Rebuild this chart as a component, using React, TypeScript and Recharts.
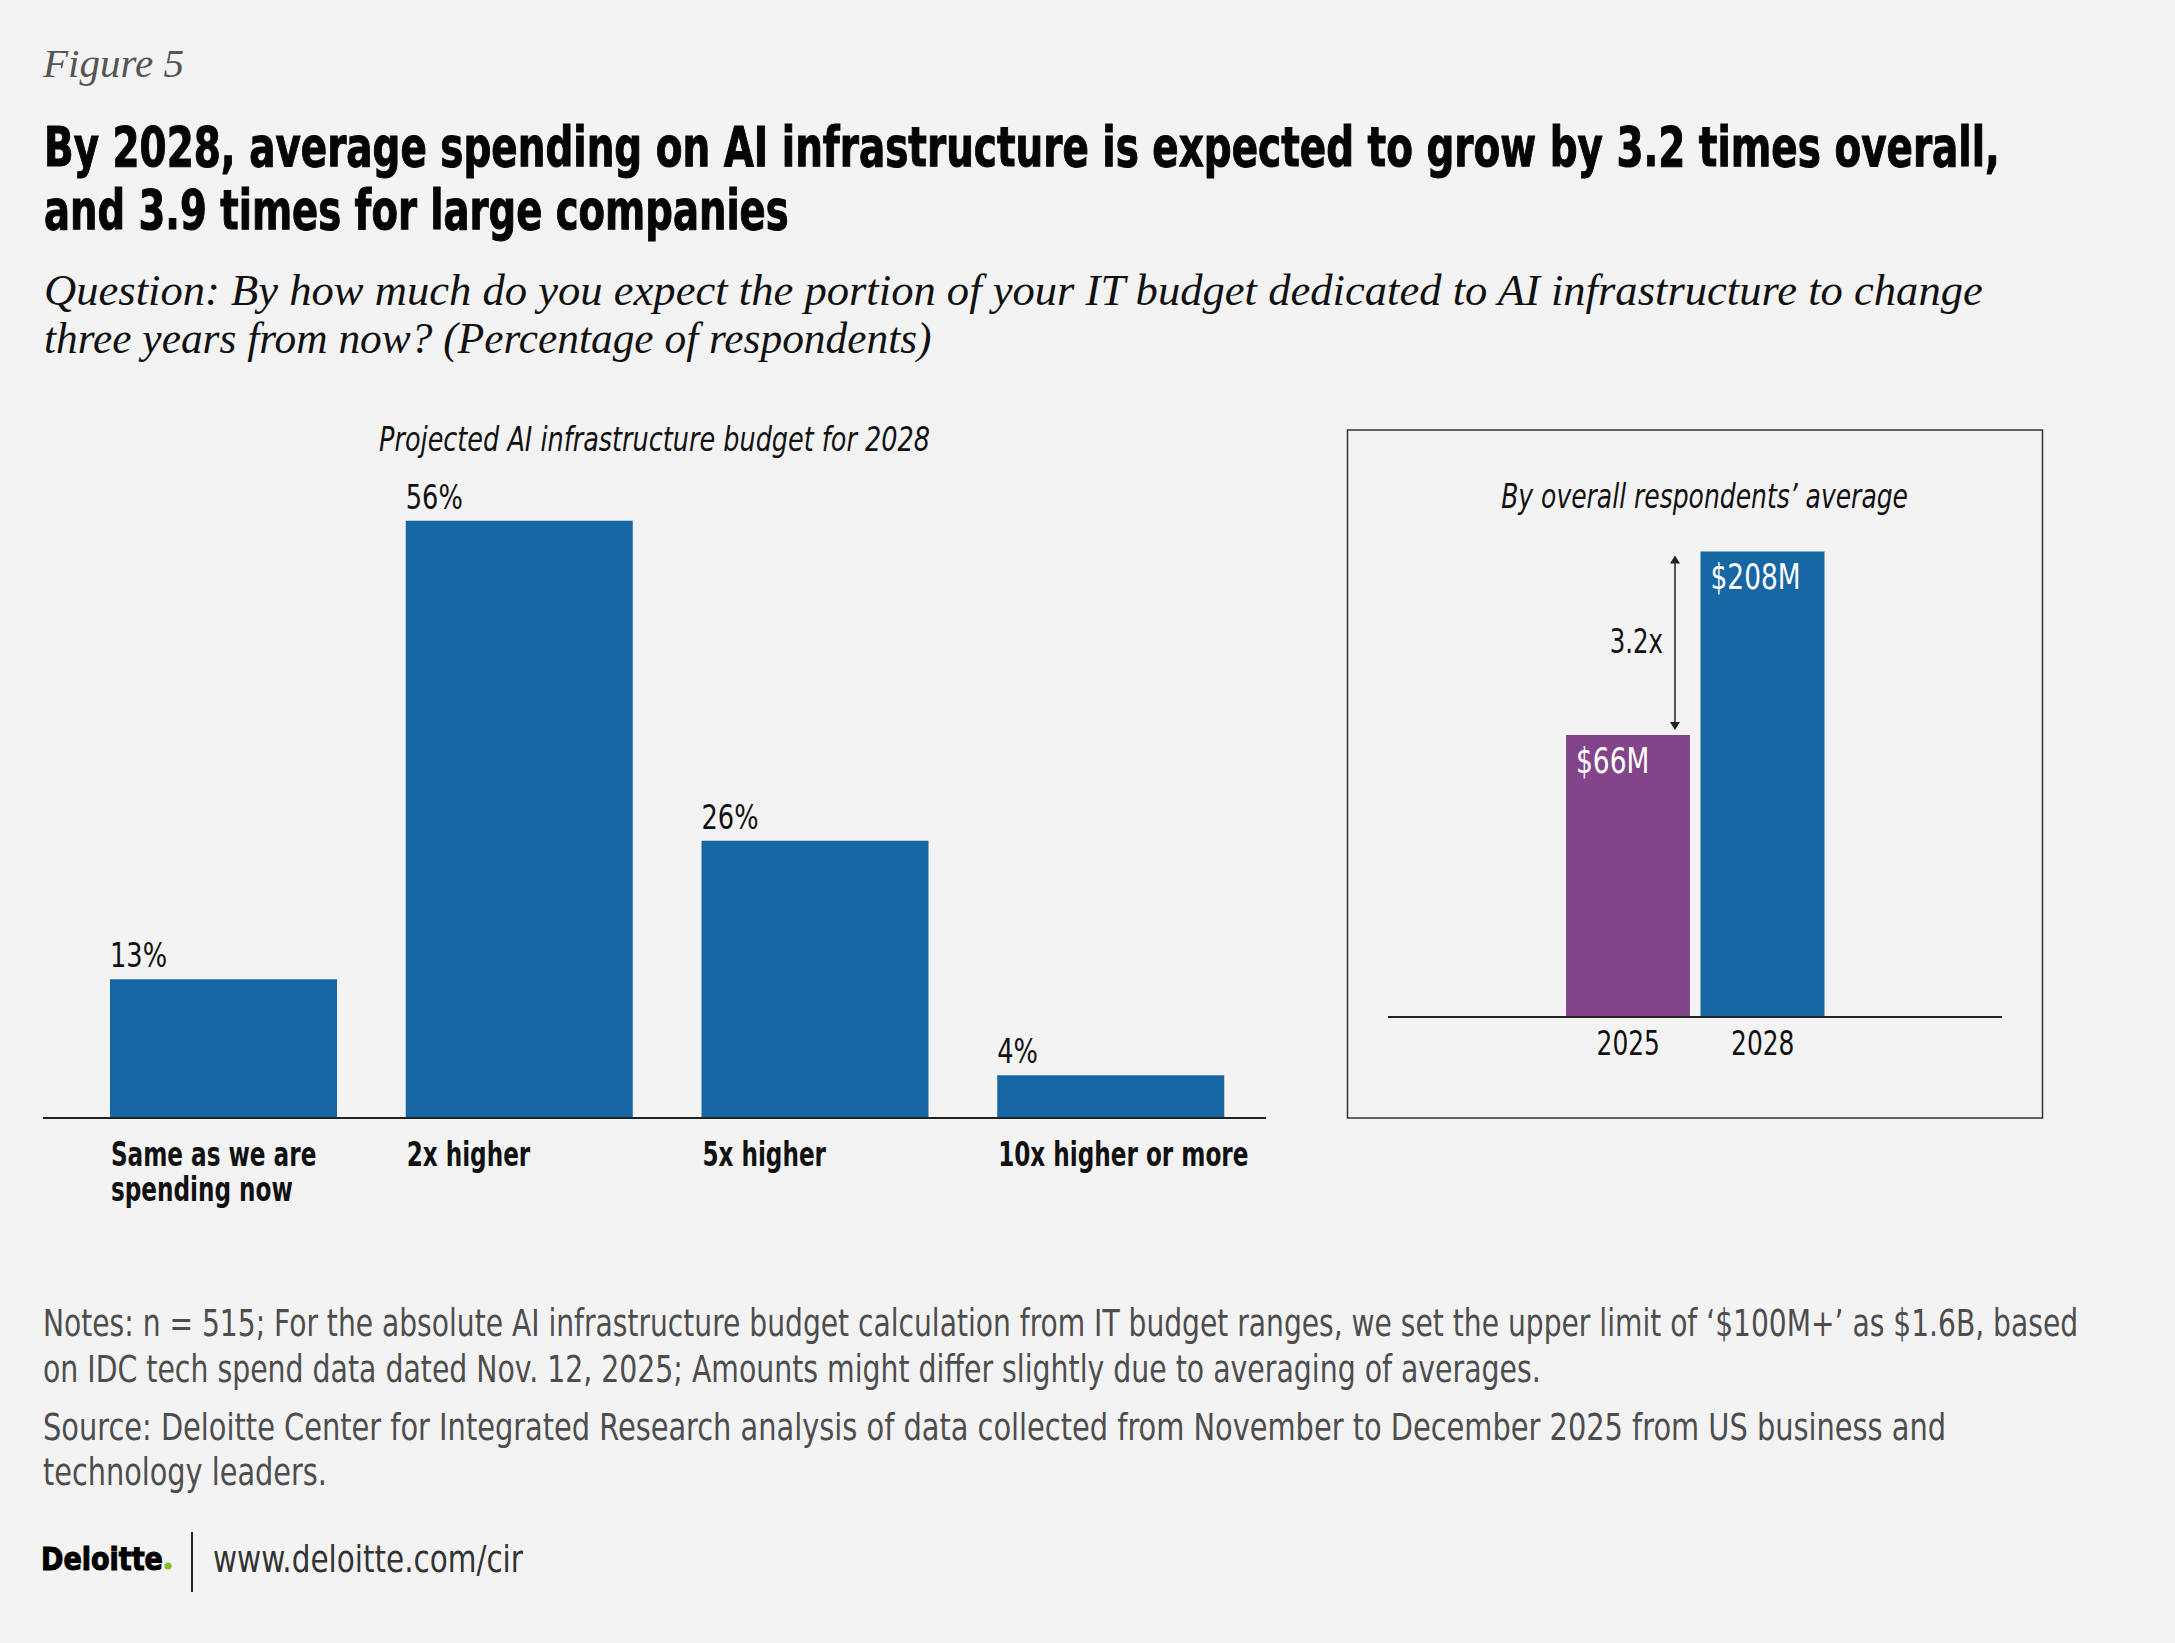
import React, { useLayoutEffect, useRef, useState } from 'react';
import { BarChart, Bar, XAxis, YAxis, LabelList, Cell } from 'recharts';

// left panel: share of respondents by projected 2028 budget
const budgetCategories = ['Same as we are\nspending now', '2x higher', '5x higher', '10x higher or more'];
const budgetShares = [13, 56, 26, 4];

// right panel: average AI infrastructure spend
const spendYears = ['2025', '2028'];
const spendValues = [66, 208];
const growthLabel = '3.2x';

const titleLines = [
  'By 2028, average spending on AI infrastructure is expected to grow by 3.2 times overall,',
  'and 3.9 times for large companies',
];
const questionLines = [
  'Question: By how much do you expect the portion of your IT budget dedicated to AI infrastructure to change',
  'three years from now? (Percentage of respondents)',
];
const noteLines = [
  'Notes: n = 515; For the absolute AI infrastructure budget calculation from IT budget ranges, we set the upper limit of \u2018$100M+\u2019 as $1.6B, based',
  'on IDC tech spend data dated Nov. 12, 2025; Amounts might differ slightly due to averaging of averages.',
];
const sourceLines = [
  'Source: Deloitte Center for Integrated Research analysis of data collected from November to December 2025 from US business and',
  'technology leaders.',
];

const BLUE = '#1766a4';
const PURPLE = '#82458a';
const BG = '#f3f3f3';
const SANS = "'Liberation Sans Narrow', 'DejaVu Sans Condensed', Roboto, sans-serif";
const SERIF = "'Liberation Serif', 'DejaVu Serif', serif";

const budgetData = budgetCategories.map((name, i) => ({ name, share: budgetShares[i] }));
const spendData = spendYears.map((year, i) => ({ year, value: spendValues[i] }));

// the source draws the two spend bars off a compressed scale, a log base reproduces it
const SPEND_DOMAIN: [number, number] = [11.32, 250];

// text squeezed horizontally to the width it takes in the source
function Txt({ x, y, w, size, family = SANS, weight = 400, italic = false, fill = '#111', anchor = 'start', stroke, children }: any) {
  const ref = useRef<SVGTextElement>(null);
  const [k, setK] = useState(1);
  useLayoutEffect(() => {
    if (!ref.current || !w) return;
    const natural = ref.current.getComputedTextLength();
    if (natural > 0) setK(w / natural);
  }, [w, size, children]);
  return (
    <text
      ref={ref}
      transform={`translate(${x},${y}) scale(${k},1)`}
      fontSize={size}
      fontFamily={family}
      fontWeight={weight}
      fontStyle={italic ? 'italic' : 'normal'}
      fill={fill}
      stroke={stroke}
      strokeWidth={stroke ? 1 : undefined}
      textAnchor={anchor}
    >
      {children}
    </text>
  );
}

// fixed condensing for the chart labels, the installed sans runs wider than the source face
function Narrow({ x, y, k = 0.84, size, weight = 400, fill = '#111', anchor = 'start', children }: any) {
  return (
    <text
      transform={`translate(${x},${y}) scale(${k},1)`}
      fontSize={size}
      fontFamily={SANS}
      fontWeight={weight}
      fill={fill}
      textAnchor={anchor}
    >
      {children}
    </text>
  );
}

const CategoryTick = (props: any) => {
  const { x, y, payload } = props;
  const lines = String(payload.value).split('\n');
  return (
    <g>
      {lines.map((line, i) => (
        <Narrow key={i} x={x - 113} y={y + 48 + i * 35} k={0.78} size={33} weight={700}>
          {line}
        </Narrow>
      ))}
    </g>
  );
};

const PctLabel = (props: any) => {
  const { x, y, value } = props;
  return (
    <Narrow x={x} y={y - 12} size={34}>
      {value}%
    </Narrow>
  );
};

const YearTick = (props: any) => {
  const { x, y, payload } = props;
  return (
    <Narrow x={x} y={y + 38} size={33} anchor="middle">
      {payload.value}
    </Narrow>
  );
};

const SpendLabel = (props: any) => {
  const { x, y, width, height, value } = props;
  const label = (
    <Narrow x={x + 10} y={y + 38} size={35} fill="#fff">
      ${value}M
    </Narrow>
  );
  if (value !== spendValues[0]) return label;

  // growth arrow from the 2025 top up to the 2028 top
  const bottom = y + height;
  const lnBase = Math.log(SPEND_DOMAIN[0]);
  const hNext = height * (Math.log(spendValues[1]) - lnBase) / (Math.log(spendValues[0]) - lnBase);
  const ax = x + width - 15;
  const y1 = bottom - hNext + 4;
  const y2 = y - 5;
  return (
    <g>
      {label}
      <line x1={ax} x2={ax} y1={y1 + 6} y2={y2 - 6} stroke="#222" strokeWidth={1.5} />
      <polygon points={`${ax},${y1} ${ax - 5},${y1 + 8} ${ax + 5},${y1 + 8}`} fill="#222" />
      <polygon points={`${ax},${y2} ${ax - 5},${y2 - 8} ${ax + 5},${y2 - 8}`} fill="#222" />
      <Narrow x={ax - 12} y={(y1 + y2) / 2 + 10} k={0.8} size={34} anchor="end">
        {growthLabel}
      </Narrow>
    </g>
  );
};

export default function App() {
  return (
    <div style={{ position: 'relative', width: 2175, height: 1643, background: BG, overflow: 'hidden' }}>
      <style>{`body{margin:0;background:${BG};}`}</style>

      <svg width={2175} height={1643} style={{ position: 'absolute', left: 0, top: 0 }}>
        <Txt x={43} y={77} size={40} family={SERIF} italic fill="#555" w={141}>Figure 5</Txt>

        <Txt x={44} y={166} size={55} weight={700} fill="#050505" stroke="#050505" w={1956}>{titleLines[0]}</Txt>
        <Txt x={44} y={229} size={55} weight={700} fill="#050505" stroke="#050505" w={745}>{titleLines[1]}</Txt>

        <Txt x={44} y={305} size={45} family={SERIF} italic fill="#111" w={1939}>{questionLines[0]}</Txt>
        <Txt x={44} y={353} size={45} family={SERIF} italic fill="#111" w={888}>{questionLines[1]}</Txt>

        <Txt x={654.5} y={451} size={33} italic anchor="middle" w={551}>Projected AI infrastructure budget for 2028</Txt>

        <rect x={1347.5} y={430} width={695} height={688} fill="none" stroke="#333" strokeWidth={1.5} />
        <Txt x={1704.6} y={507.6} size={33} italic anchor="middle" w={407}>By overall respondents{'\u2019'} average</Txt>

        <Txt x={43} y={1336} size={37} fill="#4d4d4d" w={2036}>{noteLines[0]}</Txt>
        <Txt x={43} y={1382} size={37} fill="#4d4d4d" w={1498}>{noteLines[1]}</Txt>
        <Txt x={43} y={1440} size={37} fill="#4d4d4d" w={1904}>{sourceLines[0]}</Txt>
        <Txt x={43} y={1485} size={37} fill="#4d4d4d" w={284}>{sourceLines[1]}</Txt>

        <Txt x={41} y={1570} size={32} weight={700} fill="#000" stroke="#000" w={122}>Deloitte</Txt>
        <circle cx={168} cy={1566} r={3.6} fill="#86bc25" />
        <line x1={192} x2={192} y1={1532} y2={1592} stroke="#222" strokeWidth={2} />
        <Txt x={213} y={1572} size={38} fill="#333" w={310}>www.deloitte.com/cir</Txt>
      </svg>

      <div style={{ position: 'absolute', left: 43, top: 400 }}>
        <BarChart width={1223} height={818} data={budgetData} margin={{ top: 78, right: 0, bottom: 0, left: 0 }} barSize={227}>
          <XAxis
            dataKey="name"
            height={100}
            padding={{ left: 33, right: 7 }}
            tickLine={false}
            tickSize={0}
            tickMargin={0}
            interval={0}
            axisLine={{ stroke: '#222', strokeWidth: 2 }}
            tick={<CategoryTick />}
          />
          <YAxis hide domain={[0, 60]} />
          <Bar dataKey="share" fill={BLUE} isAnimationActive={false}>
            <LabelList dataKey="share" content={PctLabel} />
          </Bar>
        </BarChart>
      </div>

      <div style={{ position: 'absolute', left: 1388, top: 500 }}>
        <BarChart width={614} height={577} data={spendData} margin={{ top: 22, right: 0, bottom: 0, left: 0 }} barSize={124}>
          <XAxis
            dataKey="year"
            height={60}
            padding={{ left: 173, right: 172 }}
            tickLine={false}
            tickSize={0}
            tickMargin={0}
            interval={0}
            axisLine={{ stroke: '#222', strokeWidth: 2 }}
            tick={<YearTick />}
          />
          <YAxis hide type="number" scale="log" domain={SPEND_DOMAIN} allowDataOverflow />
          <Bar dataKey="value" isAnimationActive={false}>
            {spendData.map((d, i) => (
              <Cell key={d.year} fill={i === 0 ? PURPLE : BLUE} />
            ))}
            <LabelList dataKey="value" content={SpendLabel} />
          </Bar>
        </BarChart>
      </div>
    </div>
  );
}
